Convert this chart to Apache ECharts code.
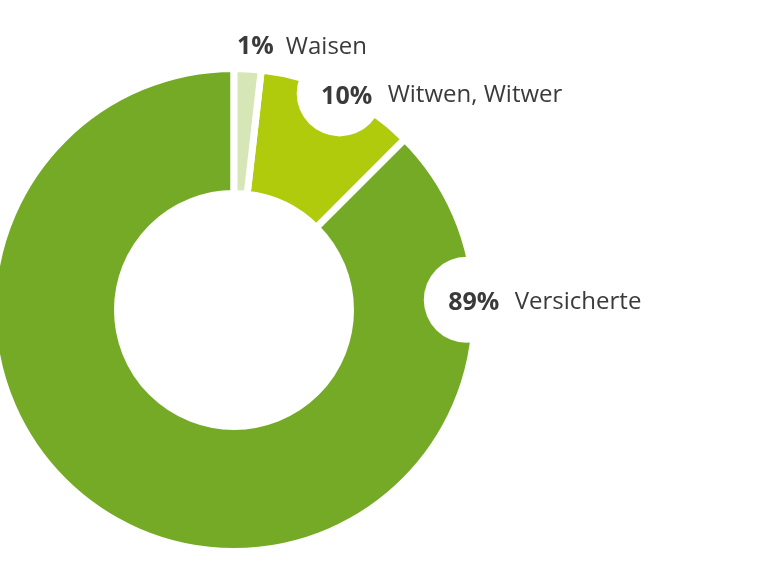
<!DOCTYPE html>
<html><head><meta charset="utf-8">
<script src="https://cdn.jsdelivr.net/npm/echarts@6/dist/echarts.min.js"></script>
<style>html,body{margin:0;padding:0;background:#fff}#c{width:768px;height:576px}</style>
</head><body><div id="c"></div>
<script>
// data
const categories = ['Waisen', 'Witwen, Witwer', 'Versicherte'];
const sliceValues = [1.8, 10.7, 87.5];          // drawn slice sizes
const percentLabels = ['1%', '10%', '89%'];      // printed percentages
const colors = ['#d6e6b6', '#b0ca0c', '#75aa27'];

// layout
const CX = 234, CY = 310;
const labelAngle = [0.65, 26.0, 87.5];  // degrees clockwise from top
const labelDist = [265, 241, 233];      // px from centre
const hasBubble = [false, true, true];
const BUB = 43;                          // bubble radius

// Waisen starts at 12 o'clock; it is listed last so its label is painted above the bubbles
const drawOrder = [1, 2, 0];
const total = sliceValues.reduce((a, b) => a + b, 0);
const startAngle = 90 - 360 * sliceValues[0] / total;

const chart = echarts.init(document.getElementById('c'), null, {renderer: 'canvas'});
chart.setOption({
  animation: false,
  backgroundColor: '#ffffff',
  series: [{
    type: 'pie',
    center: [CX, CY],
    radius: [116.5, 241.5],
    startAngle: startAngle,
    clockwise: true,
    avoidLabelOverlap: false,
    itemStyle: {borderColor: '#ffffff', borderWidth: 7},
    labelLine: {show: false},
    label: {
      show: true,
      position: 'outside',
      formatter: p => {
        const i = drawOrder[p.dataIndex];
        return hasBubble[i]
          ? '{pct|' + percentLabels[i] + '}{name|' + p.name + '}'
          : '{plain|' + percentLabels[i] + '}{name2|' + p.name + '}';
      },
      rich: {
        pct: {
          fontFamily: 'Open Sans', fontWeight: 'bold', fontSize: 25, color: '#3a3a3a',
          backgroundColor: '#ffffff', borderRadius: BUB,
          width: 2 * BUB - 14, height: 2 * BUB - 14, padding: [10, 0, 4, 14], align: 'center'
        },
        plain: {
          fontFamily: 'Open Sans', fontWeight: 'bold', fontSize: 25, color: '#3a3a3a', padding: [4, 0, 0, 0]
        },
        name: {
          fontFamily: 'Open Sans', fontSize: 24, color: '#3a3a3a', padding: [4, 0, 0, 5]
        },
        name2: {
          fontFamily: 'Open Sans', fontSize: 24, color: '#3a3a3a', padding: [4, 0, 0, 12]
        }
      }
    },
    labelLayout: function (params) {
      const i = drawOrder[params.dataIndex];
      const a = labelAngle[i] * Math.PI / 180;
      const x = CX + labelDist[i] * Math.sin(a);
      const y = CY - labelDist[i] * Math.cos(a);
      return {x: x - (hasBubble[i] ? BUB : 0), y: y, align: 'left', verticalAlign: 'middle'};
    },
    emphasis: {disabled: true},
    data: drawOrder.map(i => ({name: categories[i], value: sliceValues[i], itemStyle: {color: colors[i]}}))
  }]
});
</script></body></html>
